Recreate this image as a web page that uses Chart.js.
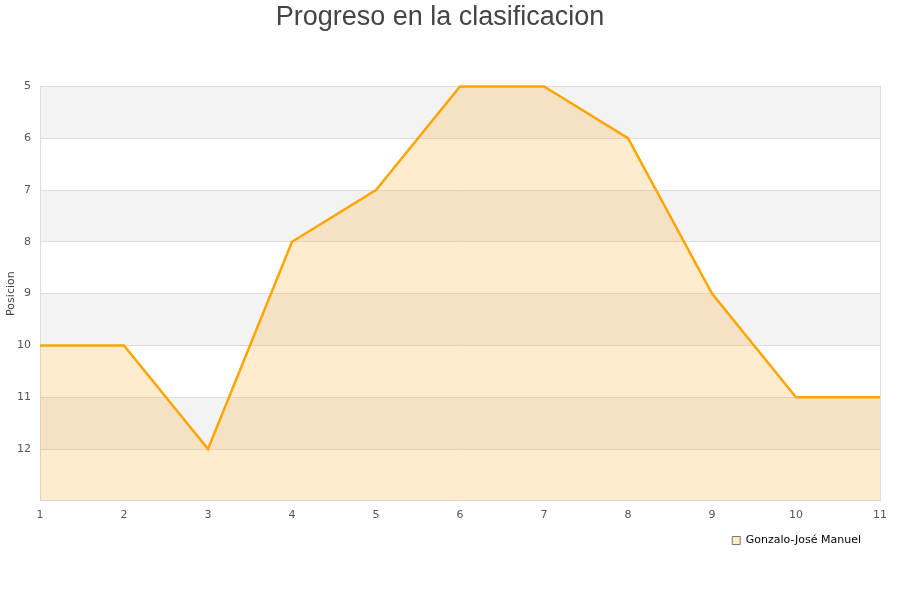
<!DOCTYPE html>
<html>
<head>
<meta charset="utf-8">
<script src="https://cdn.jsdelivr.net/npm/chart.js@4.4.0/dist/chart.umd.min.js"></script>
<style>html,body{margin:0;padding:0;background:#fff;}#wrap{width:900px;height:600px;}</style>
</head>
<body>
<div id="wrap"><canvas id="c" width="900" height="600"></canvas></div>
<script>
const jornadas = [1, 2, 3, 4, 5, 6, 7, 8, 9, 10, 11];
const posiciones = [10, 10, 12, 8, 7, 5, 5, 6, 9, 11, 11];
const seriesName = 'Gonzalo-José Manuel';
const chartTitle = 'Progreso en la clasificacion';
const yTitle = 'Posicion';

const bandPlugin = {
  id: 'bands',
  beforeDraw(chart) {
    const {ctx, chartArea: a, scales: {y}} = chart;
    ctx.save();
    for (let v = y.min; v < y.max; v++) {
      if ((v - y.min) % 2 === 0) {
        const p1 = y.getPixelForValue(v), p2 = y.getPixelForValue(v + 1);
        ctx.fillStyle = '#f3f3f3';
        ctx.fillRect(a.left, Math.min(p1, p2), a.right - a.left, Math.abs(p2 - p1));
      }
    }
    ctx.restore();
  }
};

const legendShift = {
  id: 'legendShift',
  afterLayout(chart) {
    const l = chart.legend;
    if (l) { l.left -= 14; l.right -= 14; }
  }
};

new Chart(document.getElementById('c'), {
  type: 'line',
  data: {
    labels: jornadas,
    datasets: [{
      label: seriesName,
      data: posiciones,
      borderColor: '#ffa500',
      backgroundColor: 'rgba(255,170,30,0.22)',
      borderWidth: 2.5,
      pointRadius: 0,
      tension: 0,
      fill: {value: 13},
      clip: 4
    }]
  },
  options: {
    responsive: false,
    animation: false,
    layout: {padding: {left: 0, right: 20, top: 1, bottom: 44}},
    plugins: {
      title: {
        display: true, text: chartTitle, color: '#444',
        font: {family: 'Liberation Sans', size: 27, weight: 'normal'},
        padding: {top: 0, bottom: 53}
      },
      legend: {
        position: 'bottom', align: 'end',
        labels: {
          boxWidth: 8, boxHeight: 8, color: '#000',
          font: {family: 'DejaVu Sans', size: 11},
          padding: 5,
          generateLabels(chart) {
            return Chart.defaults.plugins.legend.labels.generateLabels(chart).map(it => Object.assign(it, {
              fillStyle: '#ffeccc', strokeStyle: '#777', lineWidth: 1
            }));
          }
        }
      },
      tooltip: {enabled: false}
    },
    scales: {
      x: {
        type: 'category',
        offset: false,
        grid: {display: false, drawTicks: false},
        border: {color: '#dddddd'},
        ticks: {color: '#555', font: {family: 'DejaVu Sans', size: 11}, padding: 8, maxRotation: 0}
      },
      y: {
        reverse: true, min: 5, max: 13,
        grid: {color: '#dddddd', drawTicks: false},
        border: {color: '#dddddd'},
        ticks: {
          stepSize: 1, color: '#555', font: {family: 'DejaVu Sans', size: 11}, padding: 9,
          callback: v => v === 13 ? '' : v
        },
        title: {display: true, text: yTitle, color: '#444', font: {family: 'DejaVu Sans', size: 11}, padding: {top: 5, bottom: 0}},
        afterFit(s) { s.width = 40; }
      },
      yr: {
        position: 'right', display: true,
        grid: {display: false, drawTicks: false},
        border: {color: '#dddddd'},
        ticks: {display: false},
        afterFit(s) { s.width = 0; }
      }
    }
  },
  plugins: [bandPlugin, legendShift]
});
</script>
</body>
</html>
